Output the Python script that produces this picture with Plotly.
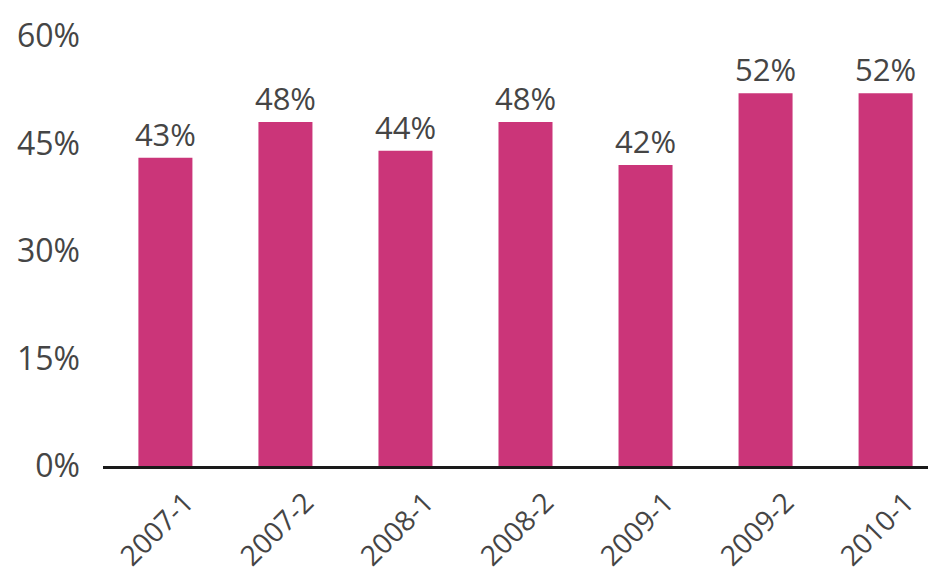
import plotly.graph_objects as go

categories = ["2007-1", "2007-2", "2008-1", "2008-2", "2009-1", "2009-2", "2010-1"]
values = [43, 48, 44, 48, 42, 52, 52]
labels = ["43%", "48%", "44%", "48%", "42%", "52%", "52%"]
y_ticks = [0, 15, 30, 45, 60]
y_tick_labels = ["0%", "15%", "30%", "45%", "60%"]

fig = go.Figure(go.Bar(
    x=categories, y=values, text=labels, textposition="outside",
    constraintext="none",
    marker=dict(color="#CB3579", line=dict(width=0)),
    textfont=dict(size=31, color="#454545", family="Open Sans"),
    cliponaxis=False,
))

fig.update_layout(
    width=936, height=579,
    margin=dict(l=95, r=8, t=28, b=121, autoexpand=False),
    paper_bgcolor="white", plot_bgcolor="white",
    bargap=0.55, showlegend=False,
    font=dict(family="Open Sans", color="#454545"),
    xaxis=dict(
        type="category",
        range=[-0.52, 6.42], tickangle=-45,
        tickfont=dict(size=28, color="#454545"),
        showline=True, linecolor="#1a1a1a", linewidth=3,
        ticks="", showgrid=False, zeroline=False, automargin=False,
        ticklabelshift=20, ticklabelstandoff=6,
    ),
    yaxis=dict(
        range=[0, 60], tickvals=y_ticks, ticktext=y_tick_labels,
        tickfont=dict(size=32, color="#454545"),
        showgrid=False, zeroline=False, showline=False,
        ticks="", ticklabelstandoff=22, automargin=False,
    ),
)

fig.write_html("out.html")
